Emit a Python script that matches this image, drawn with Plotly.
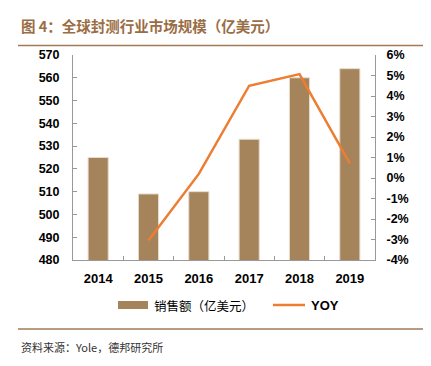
import plotly.graph_objects as go

years = ["2014", "2015", "2016", "2017", "2018", "2019"]
sales = [525, 509, 510, 533, 560, 564]
yoy = [None, -3.05, 0.2, 4.5, 5.07, 0.71]
left_ticks = [480, 490, 500, 510, 520, 530, 540, 550, 560, 570]
right_ticks = [-4, -3, -2, -1, 0, 1, 2, 3, 4, 5, 6]

OFF = 8  # page body margin
W, H = 431 - OFF, 366 - OFF
L, R, T, B = 73 - OFF, 56, 55 - OFF, 106
pw, ph = W - L - R, H - T - B


def px(x):
    return (x - OFF - L) / pw


def py(y):
    return (H - B - (y - OFF)) / ph


brown = "#a5845b"
orange = "#ed7d31"
line_brown = "#a27a55"
xtick_font = dict(family="Liberation Sans, Arial", size=13, color="#000000", weight="bold")
ytick_font = dict(family="Liberation Sans, Arial", size=12.5, color="#000000", weight="bold")

fig = go.Figure()
fig.add_trace(go.Bar(
    x=years, y=sales, name="销售额（亿美元）", width=0.4,
    marker=dict(color=brown, line=dict(color="#e8dccb", width=1)),
    yaxis="y", showlegend=False,
))
fig.add_trace(go.Scatter(
    x=years, y=yoy, name="YOY", mode="lines",
    line=dict(color=orange, width=2.5), yaxis="y2", showlegend=False,
))

fig.update_layout(
    width=W, height=H,
    margin=dict(l=L, r=R, t=T, b=B),
    paper_bgcolor="white", plot_bgcolor="white",
    showlegend=False,
    xaxis=dict(
        type="category", showline=True, linecolor="#999999", linewidth=1,
        ticks="inside", tickson="boundaries", ticklen=4, tickcolor="#999999",
        tickfont=xtick_font, showgrid=False, ticklabelstandoff=6,
    ),
    yaxis=dict(
        range=[480, 570], tickvals=left_ticks, showline=True, linecolor="#999999",
        linewidth=1, ticks="inside", ticklen=4, tickcolor="#999999",
        tickfont=ytick_font, showgrid=False, zeroline=False, ticklabelstandoff=10,
    ),
    yaxis2=dict(
        range=[-4, 6], tickvals=right_ticks, ticktext=[f"{v}%" for v in right_ticks],
        overlaying="y", side="right", showline=True, linecolor="#999999",
        linewidth=1, ticks="inside", ticklen=4, tickcolor="#999999",
        tickfont=ytick_font, showgrid=False, zeroline=False, ticklabelstandoff=8,
    ),
    shapes=[
        dict(type="line", xref="paper", yref="paper", x0=px(18), x1=px(430), y0=py(45.5), y1=py(45.5),
             line=dict(color=line_brown, width=1.5)),
        dict(type="line", xref="paper", yref="paper", x0=px(18), x1=px(430), y0=py(329), y1=py(329),
             line=dict(color=line_brown, width=1.5)),
        # legend swatches
        dict(type="rect", xref="paper", yref="paper", x0=px(118), x1=px(148), y0=py(301), y1=py(309),
             fillcolor=brown, line=dict(width=0)),
        dict(type="line", xref="paper", yref="paper", x0=px(273), x1=px(305), y0=py(305), y1=py(305),
             line=dict(color=orange, width=2.5)),
    ],
    annotations=[
        dict(text="图 4：全球封测行业市场规模（亿美元）", xref="paper", yref="paper",
             x=px(19), y=py(25), xanchor="left", yanchor="middle", showarrow=False,
             font=dict(family="Noto Sans CJK SC", size=14.5, color="#9a6e45", weight="bold")),
        dict(text="资料来源：Yole，德邦研究所", xref="paper", yref="paper",
             x=px(19), y=py(347), xanchor="left", yanchor="middle", showarrow=False,
             font=dict(family="Noto Sans CJK SC, Liberation Sans", size=11, color="#333333")),
        dict(text="销售额（亿美元）", xref="paper", yref="paper",
             x=px(152), y=py(305), xanchor="left", yanchor="middle", showarrow=False,
             font=dict(family="Noto Sans CJK SC", size=12.5, color="#000000")),
        dict(text="YOY", xref="paper", yref="paper",
             x=px(309), y=py(305), xanchor="left", yanchor="middle", showarrow=False,
             font=dict(family="Liberation Sans, Arial", size=13, color="#000000", weight="bold")),
    ],
)

fig.write_html("out.html")
